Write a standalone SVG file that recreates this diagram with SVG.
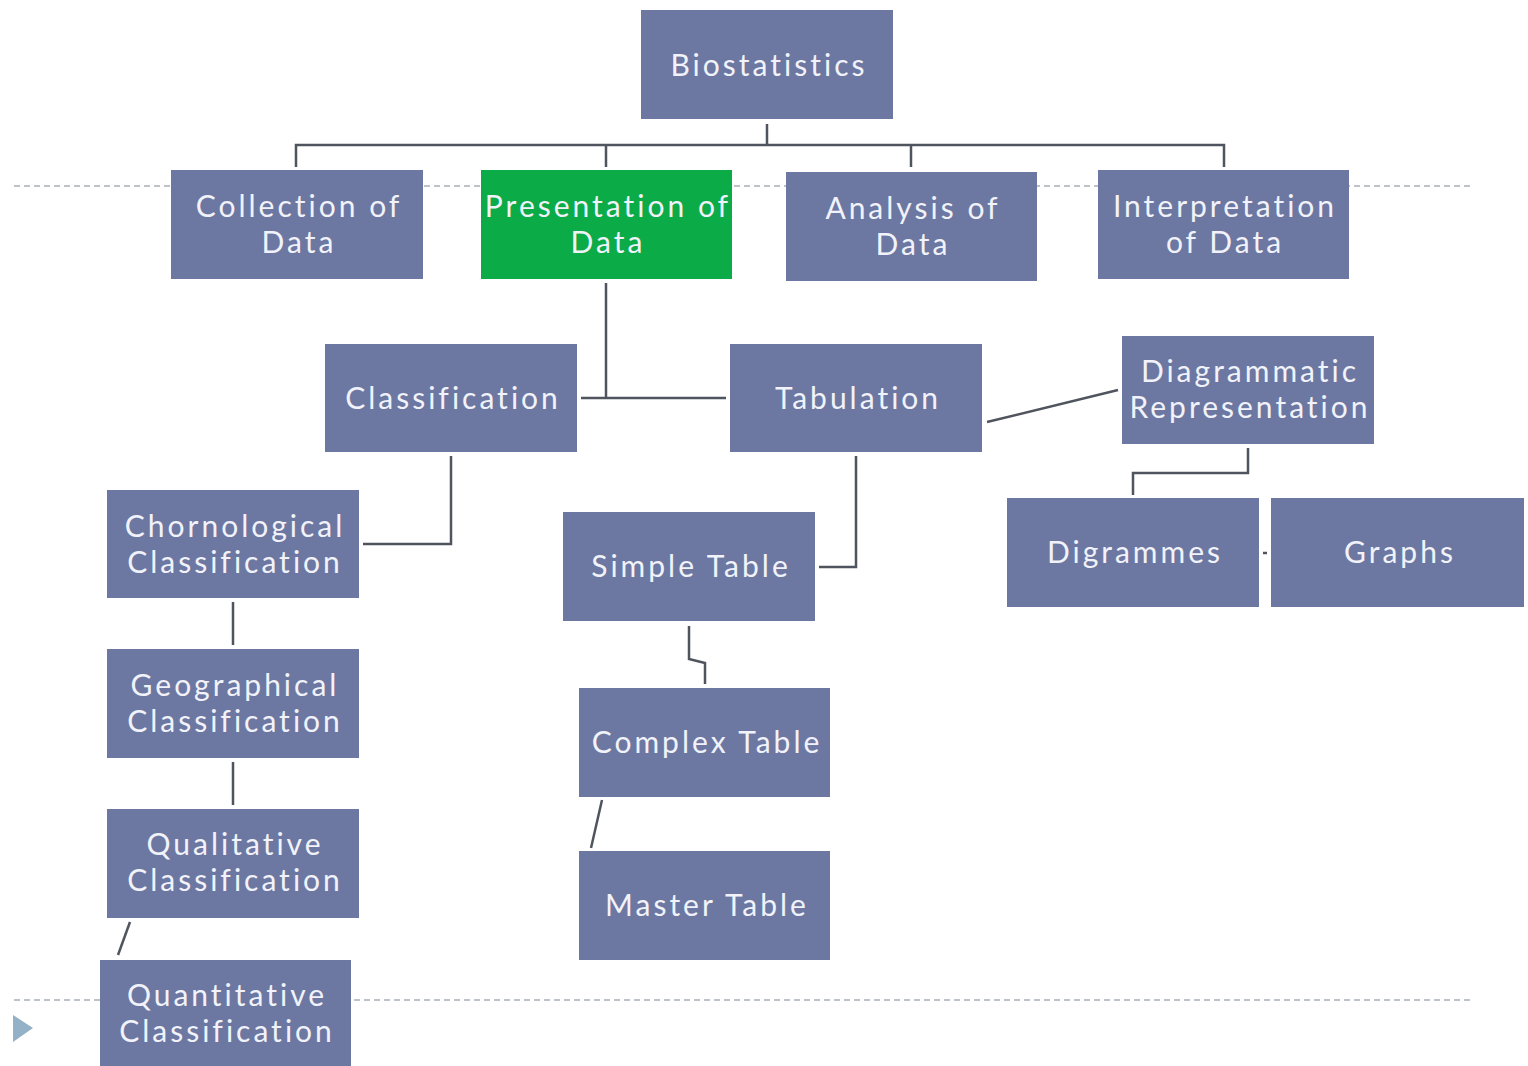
<svg xmlns="http://www.w3.org/2000/svg" width="1528" height="1066" viewBox="0 0 1528 1066">
<style>
.n{fill:#6c78a1}
.g{fill:#0bab48}
.t{font-family:Lato,"Open Sans",sans-serif;font-size:30px;fill:#f1f2fa;text-anchor:middle;letter-spacing:3px}
.c{fill:none;stroke:#50545e;stroke-width:2.5}
.d{stroke:#a9aeb8;stroke-width:1.5;stroke-dasharray:6 4}
</style>
<rect width="1528" height="1066" fill="#ffffff"/>
<g id="guides">
<line class="d" x1="14" y1="186" x2="1472" y2="186"/>
<line class="d" x1="14" y1="1000" x2="1472" y2="1000"/>
<polygon points="13,1015 33,1028 13,1042" fill="#93b1c7"/>
</g>
<g id="connectors">
<path class="c" d="M767,124 V145 M296,167 V145 H1224 V167 M606,145 V167 M911,145 V167"/>
<path class="c" d="M606,283 V398 M581,398 H726"/>
<path class="c" d="M987,422 L1118,390"/>
<path class="c" d="M1248,448 V473 H1133 V495"/>
<path class="c" d="M1263,553 H1267"/>
<path class="c" d="M451,456 V544 H363"/>
<path class="c" d="M233,602 V645 M233,762 V805"/>
<path class="c" d="M130,922 L118,955"/>
<path class="c" d="M856,456 V567 H819"/>
<path class="c" d="M689,626 V659 L705,663 V684"/>
<path class="c" d="M602,800 L591,848"/>
</g>
<g id="biostatistics"><rect class="n" x="641" y="10" width="252" height="109"/><text class="t" x="769" y="76">Biostatistics</text></g>
<g id="collection"><rect class="n" x="171" y="170" width="252" height="109"/><text class="t" x="299" y="217">Collection of</text><text class="t" x="299" y="253">Data</text></g>
<g id="presentation"><rect class="g" x="481" y="170" width="251" height="109"/><text class="t" x="608" y="217">Presentation of</text><text class="t" x="608" y="253">Data</text></g>
<g id="analysis"><rect class="n" x="786" y="172" width="251" height="109"/><text class="t" x="913" y="219">Analysis of</text><text class="t" x="913" y="255">Data</text></g>
<g id="interpretation"><rect class="n" x="1098" y="170" width="251" height="109"/><text class="t" x="1225" y="217">Interpretation</text><text class="t" x="1225" y="253">of Data</text></g>
<g id="classification"><rect class="n" x="325" y="344" width="252" height="108"/><text class="t" x="453" y="409">Classification</text></g>
<g id="tabulation"><rect class="n" x="730" y="344" width="252" height="108"/><text class="t" x="858" y="409">Tabulation</text></g>
<g id="diagrammatic"><rect class="n" x="1122" y="336" width="252" height="108"/><text class="t" x="1250" y="382">Diagrammatic</text><text class="t" x="1250" y="418">Representation</text></g>
<g id="digrammes"><rect class="n" x="1007" y="498" width="252" height="109"/><text class="t" x="1135" y="563">Digrammes</text></g>
<g id="graphs"><rect class="n" x="1271" y="498" width="253" height="109"/><text class="t" x="1400" y="563">Graphs</text></g>
<g id="chornological"><rect class="n" x="107" y="490" width="252" height="108"/><text class="t" x="235" y="537">Chornological</text><text class="t" x="235" y="573">Classification</text></g>
<g id="geographical"><rect class="n" x="107" y="649" width="252" height="109"/><text class="t" x="235" y="696">Geographical</text><text class="t" x="235" y="732">Classification</text></g>
<g id="qualitative"><rect class="n" x="107" y="809" width="252" height="109"/><text class="t" x="235" y="855">Qualitative</text><text class="t" x="235" y="891">Classification</text></g>
<g id="quantitative"><rect class="n" x="100" y="960" width="251" height="106"/><text class="t" x="227" y="1006">Quantitative</text><text class="t" x="227" y="1042">Classification</text></g>
<g id="simple"><rect class="n" x="563" y="512" width="252" height="109"/><text class="t" x="691" y="577">Simple Table</text></g>
<g id="complex"><rect class="n" x="579" y="688" width="251" height="109"/><text class="t" x="707" y="753">Complex Table</text></g>
<g id="master"><rect class="n" x="579" y="851" width="251" height="109"/><text class="t" x="707" y="916">Master Table</text></g>
</svg>
